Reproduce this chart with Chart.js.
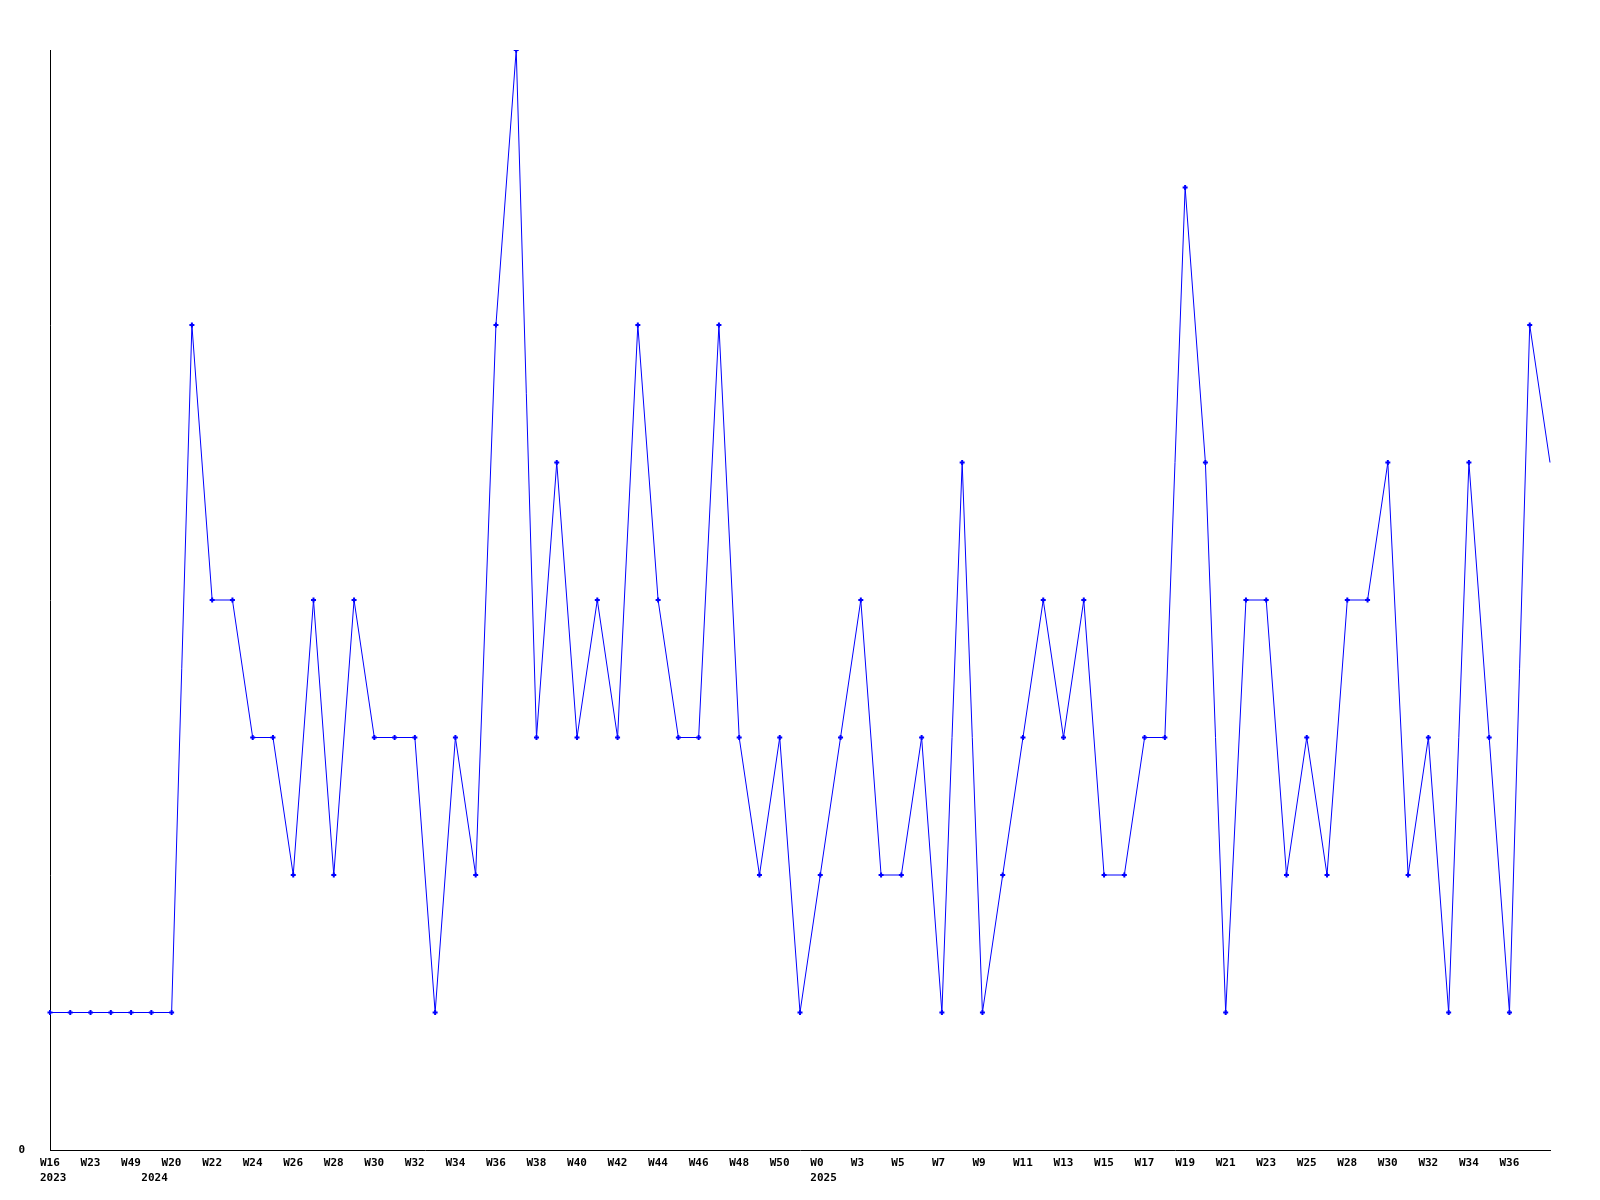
<!DOCTYPE html>
<html>
<head>
<meta charset="utf-8">
<script src="https://cdn.jsdelivr.net/npm/chart.js@4/dist/chart.umd.min.js"></script>
<style>
  html, body { margin: 0; padding: 0; background: #fff; }
  canvas { display: block; }
</style>
</head>
<body>
<canvas id="weekly-chart" width="1600" height="1200"></canvas>
<script>
// week labels, one per point (only every other one is shown on the axis)
const weeks = [
  'W16', 'W19', 'W23', 'W36', 'W49', 'W14', 'W20', 'W21', 'W22', 'W23',
  'W24', 'W25', 'W26', 'W27', 'W28', 'W29', 'W30', 'W31', 'W32', 'W33',
  'W34', 'W35', 'W36', 'W37', 'W38', 'W39', 'W40', 'W41', 'W42', 'W43',
  'W44', 'W45', 'W46', 'W47', 'W48', 'W49', 'W50', 'W52', 'W0', 'W2',
  'W3', 'W4', 'W5', 'W6', 'W7', 'W8', 'W9', 'W10', 'W11', 'W12',
  'W13', 'W14', 'W15', 'W16', 'W17', 'W18', 'W19', 'W20', 'W21', 'W22',
  'W23', 'W24', 'W25', 'W27', 'W28', 'W29', 'W30', 'W31', 'W32', 'W33',
  'W34', 'W35', 'W36', 'W37', 'W38'
];

// index of the first point of each year -> year label
const yearIndex = [0, 5, 38];
const yearLabels = ['2023', '2024', '2025'];

const values = [
  1, 1, 1, 1, 1, 1, 1, 6, 4, 4,
  3, 3, 2, 4, 2, 4, 3, 3, 3, 1,
  3, 2, 6, 8, 3, 5, 3, 4, 3, 6,
  4, 3, 3, 6, 3, 2, 3, 1, 2, 3,
  4, 2, 2, 3, 1, 5, 1, 2, 3, 4,
  3, 4, 2, 2, 3, 3, 7, 5, 1, 4,
  4, 2, 3, 2, 4, 4, 5, 2, 3, 1,
  5, 3, 1, 6, 5
];

const blue = '#0000ff';
const tickFont = { family: '"DejaVu Sans Mono", monospace', size: 11, weight: 'bold', lineHeight: 1.36 };

function tickLabel(i) {
  // every second week, the last point sits on the edge and gets no label
  const w = (i % 2 === 0 && i < weeks.length - 1) ? weeks[i] : '';
  const y = yearIndex.indexOf(i);
  return y >= 0 ? [w, yearLabels[y]] : w;
}

const ctx = document.getElementById('weekly-chart').getContext('2d');

new Chart(ctx, {
  type: 'line',
  data: {
    labels: weeks,
    datasets: [{
      data: values,
      borderColor: blue,
      backgroundColor: blue,
      borderWidth: 1,
      tension: 0,
      fill: false,
      pointStyle: 'cross',
      pointRadius: values.map((v, i) => i === values.length - 1 ? 0 : 2.5),
      pointBorderWidth: 2,
      pointBorderColor: blue,
    }],
  },
  options: {
    responsive: false,
    animation: false,
    devicePixelRatio: 1,
    layout: { padding: { top: 50, right: 50, left: 0, bottom: 0 } },
    scales: {
      x: {
        offset: false,
        grid: { display: false, drawTicks: false },
        border: { display: true, color: '#000', width: 1 },
        afterFit: (s) => { s.height = 50; },
        ticks: {
          autoSkip: false,
          maxRotation: 0,
          minRotation: 0,
          align: 'start',
          padding: 6,
          labelOffset: -10,
          color: '#000',
          font: tickFont,
          callback: (val, i) => tickLabel(i),
        },
      },
      y: {
        min: 0,
        max: 8,
        grid: { display: false, drawTicks: false },
        border: { display: true, color: '#000', width: 1 },
        afterFit: (s) => { s.width = 50; },
        ticks: {
          stepSize: 1,
          padding: 25,
          color: '#000',
          font: tickFont,
          callback: (v) => v === 0 ? '0' : '',
        },
      },
    },
    plugins: {
      legend: { display: false },
      tooltip: { enabled: false },
    },
  },
});
</script>
</body>
</html>
